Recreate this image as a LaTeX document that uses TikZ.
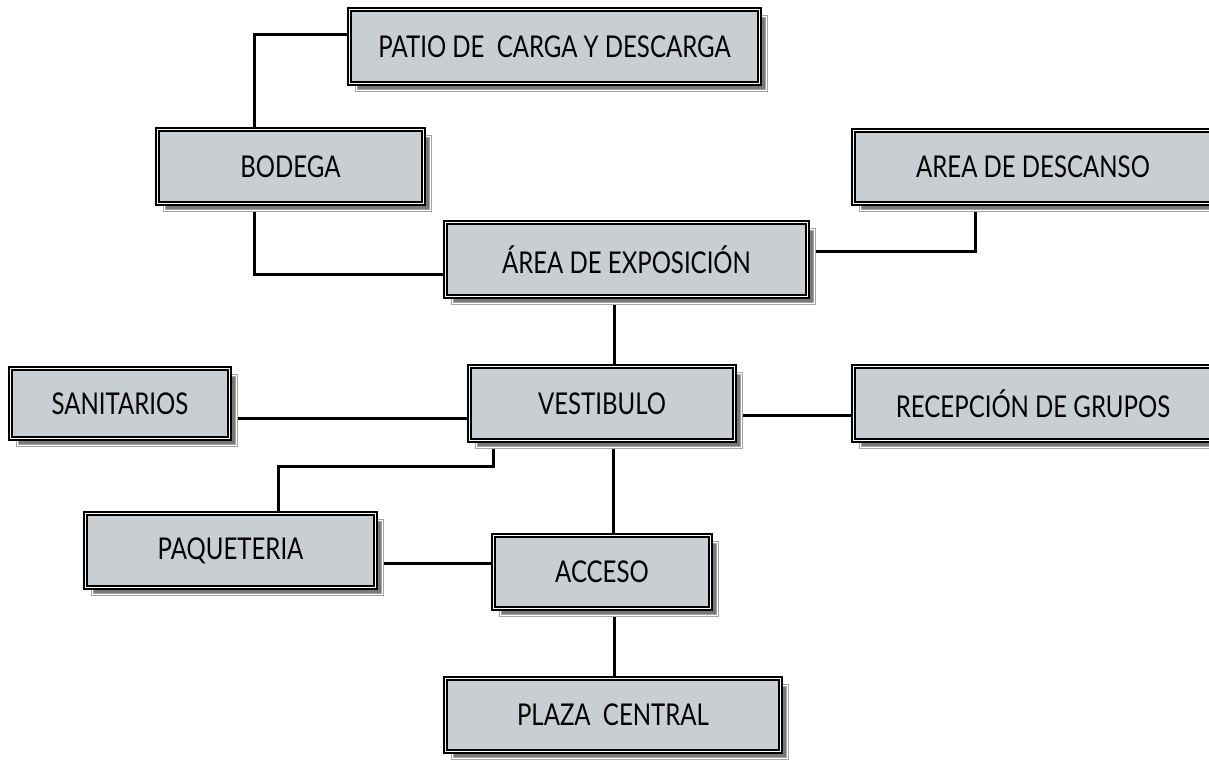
\documentclass[tikz,border=0pt]{standalone}
\usepackage{fontspec}
\setmainfont{Lato}[FakeStretch=0.8]
\usetikzlibrary{shadows,backgrounds,positioning}
\definecolor{cajagris}{RGB}{200,206,209}
\definecolor{sombragris}{RGB}{120,120,120}
\definecolor{bordegris}{RGB}{165,165,165}

\begin{document}
\begin{tikzpicture}[x=1pt,y=-1pt,
  caja/.style={draw=black,line width=1.9pt,double=white,double distance=1.2pt,fill=cajagris,
    general shadow={shadow xshift=7pt,shadow yshift=-7pt,fill=sombragris,draw=bordegris,
      double=white,line width=1pt,double distance=0.8pt},
    inner sep=0pt,font=\fontsize{30}{33}\selectfont},
  enlace/.style={line width=3pt}]
  \clip (0,0) rectangle (1209,762);
  % cajas
  \node[caja,minimum width=410pt,minimum height=74pt] (patio) at (554.5,46.5) {PATIO DE\ \ CARGA Y DESCARGA};
  \node[caja,minimum width=266pt,minimum height=74pt] (bodega) at (290.5,166.5) {BODEGA};
  \node[caja,minimum width=359pt,minimum height=73pt] (descanso) at (1033,167) {AREA DE DESCANSO};
  \node[caja,minimum width=362pt,minimum height=74pt] (exposicion) at (626.5,259.5) {ÁREA DE EXPOSICIÓN};
  \node[caja,minimum width=219pt,minimum height=70pt] (sanitarios) at (120,403.5) {SANITARIOS};
  \node[caja,minimum width=265pt,minimum height=74pt] (vestibulo) at (602,403.5) {VESTIBULO};
  \node[caja,minimum width=359pt,minimum height=74pt] (recepcion) at (1033,403.5) {RECEPCIÓN DE GRUPOS};
  \node[caja,minimum width=290pt,minimum height=74pt] (paqueteria) at (230.5,550.5) {PAQUETERIA};
  \node[caja,minimum width=217pt,minimum height=73pt] (acceso) at (602,572) {ACCESO};
  \node[caja,minimum width=335pt,minimum height=73pt] (plaza) at (613,715) {PLAZA\ \ CENTRAL};
  \coordinate (codo) at (278,466);
  % enlaces
  \begin{pgfonlayer}{background}
    \draw[enlace] (bodega.north -| 254,0) |- (patio.west |- 0,35);
    \draw[enlace] (bodega.south -| 254,0) |- (exposicion.west |- 0,274);
    \draw[enlace] (exposicion.east |- 0,251) -| (descanso.south -| 975,0);
    \draw[enlace] (exposicion.south -| 614,0) -- (vestibulo.north -| 614,0);
    \draw[enlace] (sanitarios.east |- 0,418) -- (vestibulo.west |- 0,418);
    \draw[enlace] (vestibulo.east |- 0,415) -- (recepcion.west |- 0,415);
    \draw[enlace] (vestibulo.south -| 493,0) |- (codo) -- (paqueteria.north -| codo);
    \draw[enlace] (vestibulo.south -| 613,0) -- (acceso.north -| 613,0);
    \draw[enlace] (paqueteria.east |- 0,563) -- (acceso.west |- 0,563);
    \draw[enlace] (acceso.south -| 614,0) -- (plaza.north -| 614,0);
  \end{pgfonlayer}
\end{tikzpicture}
\end{document}
